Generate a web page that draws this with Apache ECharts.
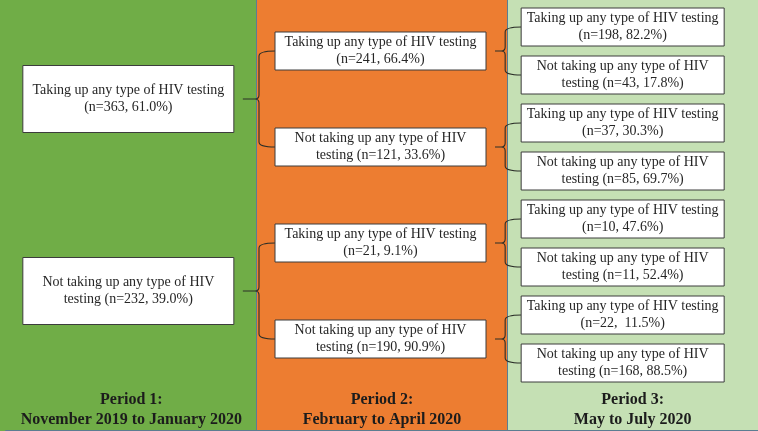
<!DOCTYPE html>
<html>
<head>
    <meta charset="utf-8">
    <title>HIV testing uptake by period</title>
    <script src="https://cdn.jsdelivr.net/npm/echarts@6/dist/echarts.min.js"></script>
    <style>
        html, body { margin: 0; padding: 0; background: #fff; }
        #main { width: 758px; height: 431px; }
    </style>
</head>
<body>
    <div id="main"></div>
    <script>
        // periods (columns)
        var periodTitles = ['Period 1:', 'Period 2:', 'Period 3:'];
        var periodDates = ['November 2019 to January 2020', 'February to April 2020', 'May to July 2020'];

        // counts and percentages per period (even index = taking up, odd = not taking up)
        var p1N = [363, 232];
        var p1Pct = ['61.0', '39.0'];
        var p2N = [241, 121, 21, 190];
        var p2Pct = ['66.4', '33.6', '9.1', '90.9'];
        var p3N = [198, 43, 37, 85, 10, 11, 22, 168];
        var p3Pct = ['82.2', '17.8', '30.3', '69.7', '47.6', '52.4', ' 11.5', '88.5'];

        var levels = [
            { n: p1N, pct: p1Pct },
            { n: p2N, pct: p2Pct },
            { n: p3N, pct: p3Pct }
        ];

        // tree layout: leaves at slot 0..7, each parent at the middle of its two children
        var slots = [[], [], []];
        for (var i = 0; i < p3N.length; i++) slots[2].push(i);
        for (var L = 1; L >= 0; L--) {
            for (var j = 0; j < levels[L].n.length; j++) {
                slots[L].push((slots[L + 1][2 * j] + slots[L + 1][2 * j + 1]) / 2);
            }
        }

        function boxText(L, i) {
            var n = levels[L].n[i], p = levels[L].pct[i];
            if (i % 2 === 0) return 'Taking up any type of HIV testing\n(n=' + n + ', ' + p + '%)';
            return 'Not taking up any type of HIV\ntesting (n=' + n + ', ' + p + '%)';
        }

        var data = [];
        for (var L = 0; L < 3; L++) {
            for (var k = 0; k < slots[L].length; k++) {
                data.push([L, slots[L][k], L, k]);
            }
        }

        var boxW = [211, 211, 203];
        var boxH = [67, 38, 38];
        var boxDx = [-3, -1.5, -10];
        var serif = '"Liberation Serif", "Times New Roman", serif';

        function renderItem(params, api) {
            var L = api.value(2), i = api.value(3);
            var c = api.coord([L, api.value(1)]);
            var cx = c[0] + boxDx[L];
            var w = boxW[L], h = boxH[L];
            var children = [];

            if (L < 2) {
                var right = cx + w / 2;
                var a = api.coord([L + 1, slots[L + 1][2 * i]]);
                var b = api.coord([L + 1, slots[L + 1][2 * i + 1]]);
                var childLeft = a[0] + boxDx[L + 1] - boxW[L + 1] / 2;
                var bx = childLeft - 16;
                var r = 4;
                var py = c[1];
                var d = 'M' + childLeft + ',' + a[1] +
                    ' Q' + bx + ',' + a[1] + ' ' + bx + ',' + (a[1] + r + 1) +
                    ' L' + bx + ',' + (py - r) +
                    ' Q' + bx + ',' + py + ' ' + (bx - r) + ',' + py +
                    ' Q' + bx + ',' + py + ' ' + bx + ',' + (py + r) +
                    ' L' + bx + ',' + (b[1] - r - 1) +
                    ' Q' + bx + ',' + b[1] + ' ' + childLeft + ',' + b[1] +
                    ' M' + (bx - r) + ',' + py + ' L' + (right + 9) + ',' + py;
                children.push({
                    type: 'path',
                    shape: { pathData: d },
                    style: { fill: null, stroke: '#2b2e28', lineWidth: 1.1 }
                });
            }

            children.push({
                type: 'rect',
                shape: { x: cx - w / 2, y: c[1] - h / 2, width: w, height: h },
                style: { fill: '#ffffff', stroke: '#3c3c3c', lineWidth: 1 }
            });
            children.push({
                type: 'text',
                style: {
                    text: boxText(L, i),
                    x: cx,
                    y: c[1],
                    align: 'center',
                    verticalAlign: 'middle',
                    font: '14px ' + serif,
                    lineHeight: 17,
                    fill: '#262626'
                }
            });
            return { type: 'group', children: children };
        }

        var myChart = echarts.init(document.getElementById('main'));
        var option = {
            animation: false,
            backgroundColor: '#70ad47',
            grid: {
                left: 6, right: -2, top: 0, bottom: 0,
                show: false
            },
            xAxis: {
                type: 'category',
                data: periodTitles,
                position: 'bottom',
                axisLine: { show: true, onZero: false, lineStyle: { color: '#5b7d92', width: 2 } },
                axisTick: { show: false },
                splitLine: {
                    show: true,
                    showMinLine: false,
                    showMaxLine: false,
                    lineStyle: { color: '#5b7d92', width: 1 }
                },
                splitArea: {
                    show: true,
                    areaStyle: { color: ['#70ad47', '#ed7d31', '#c5e0b4'] }
                },
                axisLabel: {
                    inside: true,
                    margin: 1,
                    interval: 0,
                    formatter: function (v, idx) {
                        return '{t|' + v + '}\n{t|' + periodDates[idx] + '}';
                    },
                    rich: {
                        t: {
                            fontFamily: serif,
                            fontWeight: 'bold',
                            fontSize: 16,
                            lineHeight: 20,
                            color: '#1c1c1c'
                        }
                    }
                }
            },
            yAxis: {
                type: 'value',
                inverse: true,
                min: -27 / 48,
                max: 404 / 48,
                show: false
            },
            series: [
                {
                    type: 'custom',
                    renderItem: renderItem,
                    data: data,
                    clip: false
                }
            ]
        };
        myChart.setOption(option);
    </script>
</body>
</html>
